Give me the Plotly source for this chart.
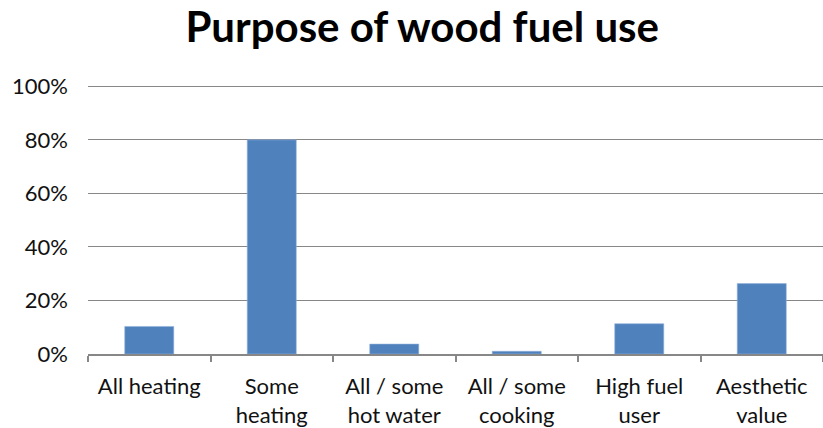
import plotly.graph_objects as go

# categories and share of respondents (%)
categories = ["All heating", "Some<br>heating", "All / some<br>hot water",
              "All / some<br>cooking", "High fuel<br>user", "Aesthetic<br>value"]
shares = [10.3, 80.0, 3.7, 1.0, 11.3, 26.3]
y_ticks = [0, 20, 40, 60, 80, 100]

font_name = "Lato, Open Sans, sans-serif"
grey = "#878787"

fig = go.Figure()
fig.add_trace(go.Bar(
    x=categories,
    y=shares,
    marker=dict(color="#4F81BD", line=dict(color="#8FB0DA", width=0.6)),
    width=0.4,
))

fig.update_layout(
    width=823, height=428,
    margin=dict(l=88, r=0, t=85, b=74),
    paper_bgcolor="white", plot_bgcolor="white",
    showlegend=False,
    font=dict(family=font_name, size=22, color="#111111"),
    title=dict(text="<b>Purpose of wood fuel use</b>", x=0.513, xanchor="center",
               y=0.937, yanchor="middle", automargin=False,
               font=dict(family=font_name, size=42, color="black")),
)

fig.update_xaxes(
    showline=True, linecolor=grey, linewidth=1.5,
    ticks="outside", tickson="boundaries", ticklen=6, tickcolor=grey, tickwidth=1.5,
    showgrid=False, tickfont=dict(size=22), automargin=False,
    ticklabelstandoff=12,
)
fig.update_yaxes(
    range=[0, 100.5], tickvals=y_ticks, ticktext=[f"{v}%" for v in y_ticks],
    showgrid=True, gridcolor=grey, gridwidth=1.2,
    zeroline=False, showline=False, ticks="",
    ticklabelstandoff=19, tickfont=dict(size=22), automargin=False,
)

# drop the default page margin so the figure sits at the window's corner
fig.write_html("out.html", config={"displayModeBar": False},
               post_script="document.body.style.margin='0';")
